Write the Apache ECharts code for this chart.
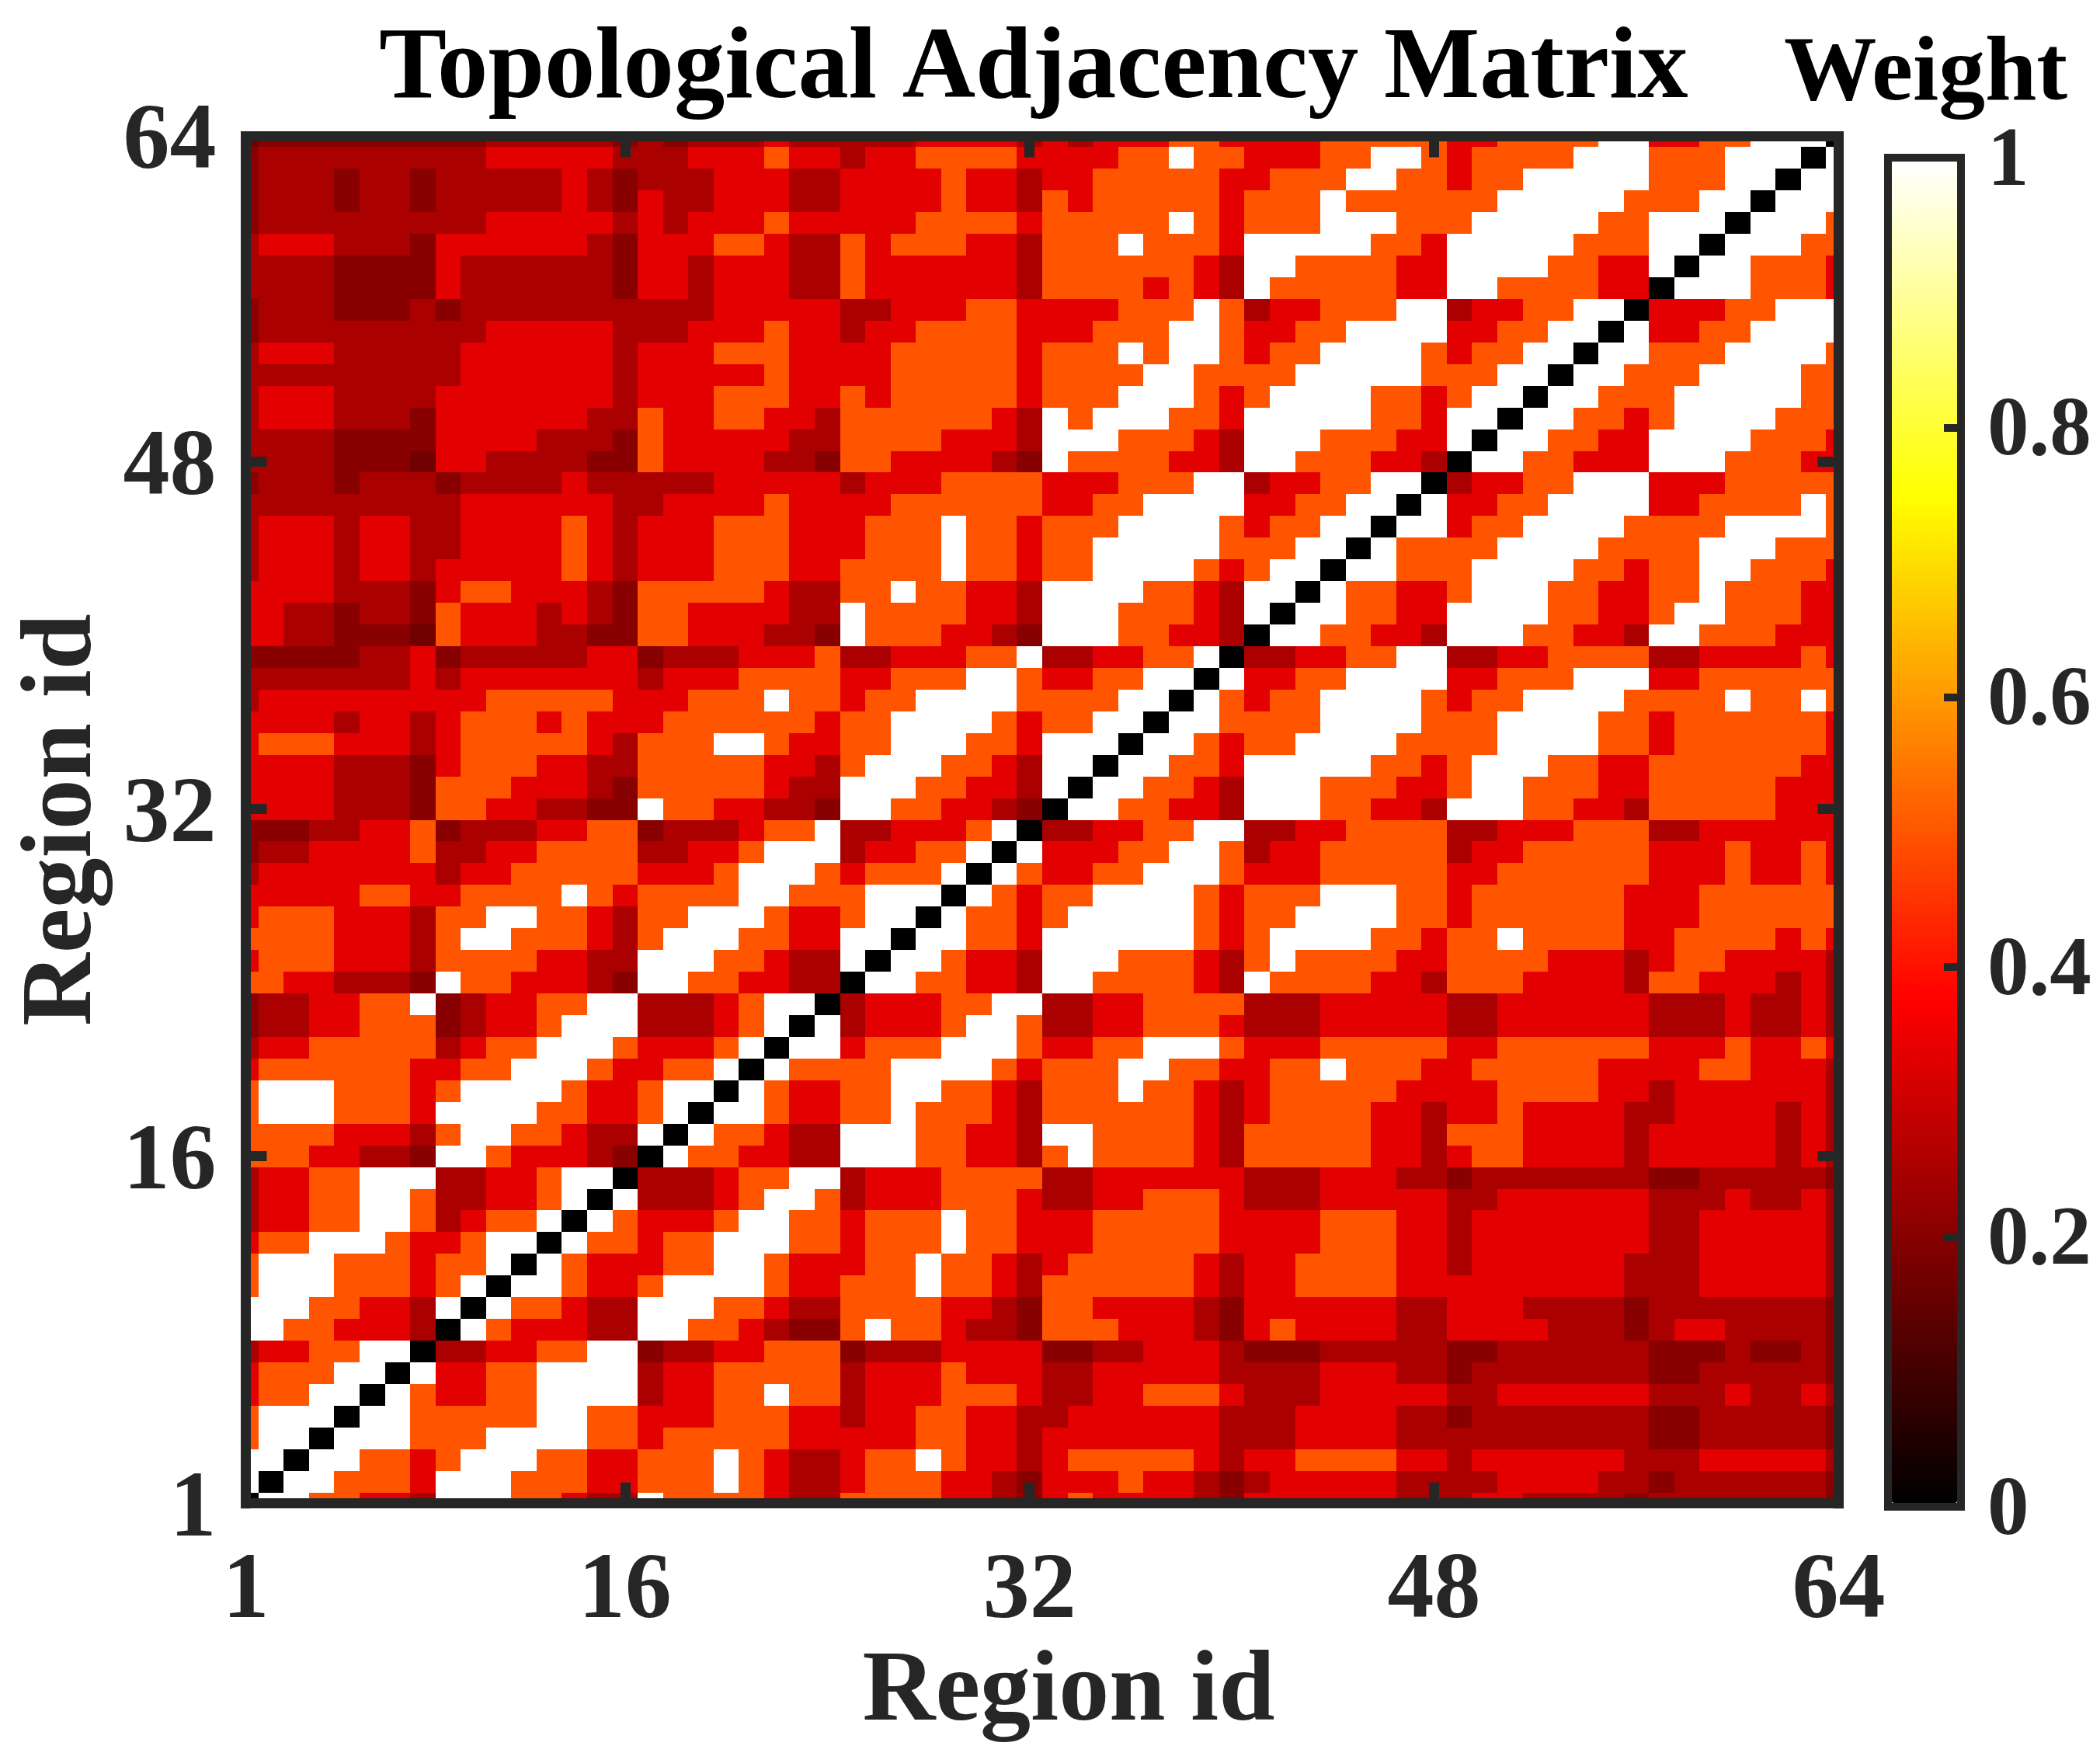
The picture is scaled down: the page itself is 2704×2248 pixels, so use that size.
<!DOCTYPE html>
<html><head><meta charset="utf-8">
<style>html,body{margin:0;padding:0;background:#fff}#c{width:2704px;height:2248px}</style>
<script src="https://cdn.jsdelivr.net/npm/echarts@6/dist/echarts.min.js"></script>
</head><body><div id="c"></div>
<script>
const titleText = 'Topological Adjacency Matrix';
const barTitle = 'Weight';
const axisName = 'Region id';
const xTickAt = [1, 16, 32, 48, 64];
const yTickAt = [1, 17, 33, 49, 64];
const yTickText = ['1', '16', '32', '48', '64'];
const barTicks = [0, 0.2, 0.4, 0.6, 0.8, 1];
// colour classes: class -> weight
const weightLevels = [0, 1, 0.5, 0.3333, 0.25, 0.2, 0.1667];
// cell classes, top row (row 64) first; row n holds columns 1..n
const rowsLeft = [
"6555555555 44444 545 444 3 44444 3333 4 3 4 333 22 3333 22222 33 2222 11 33 22 111 0",
"5 444444444 33333 444 333 2 33 4 33 2222 3333 22 1 22 333 22 11 2 3 2222 111 222 111 0",
"54445445 44444 3 4 5 444 333 44 3333 2 33 4 33 22222 33 222 11 22 3 22 11111 222 11 0",
"54445445 44444 3 4 5 3 44 333 44 3333 2 33 4 2 3 22222 3 222 1 222222 11111 222 11 0",
"5 444444444 33333 4 3 4 333 2 33333 2222 3 22222 1 2 3 222 111 222 11111 22 111 0",
"4 333 444 5 333333 4 5 333 22 3 44 2 3 222 33 4 222 1 222 3 11111 22 3 11111 222 11 0",
"4444 5555 3 444444 5 33 4 333 44 2 333333 4 222222 3 4 11 2222 33 1111 22 33 1 0",
"4444 5555 3 444444 5 33 4 333 44 2 333333 4 2222 3 2 3 4 1 22222 33 11 2222 33 0",
"5444 555 4 5 4444444444 33333 44 333 22 3333 222 1 2 4 33 222 11 4 33 22 11 0",
"5 444444444 33333 444 333 2 33 4 33 2222 333 222 11 2 33 22 1111 33 22 11 0",
"4 333 44444 333333 4 333 222 3333 22222 3 222 1 2 11 2 3 22 1111 2 3 22 11 0",
"444444444 333333 4 33333 2 3333 22222 3 2222 11 2222 11111 222 11 0",
"4 333 4444 3333333 4 333 222 33 2 3 22222 3 222 111 2 3 2 1111 22 3 2 11 0",
"4 333 444 5 333333 44 2 33 22 3 3 4 222222 3 4 1 2 111 22 3 11111 22 3 11 0",
"4444 5555 3333 444 5 2 33333 44 2222 333 4 111 222 3 4 111 222 33 1 0",
"4444 555 6 33 4444 55 2 3333 44 5 22 3333 4 5 1 2222 33 4 11 222 33 4 0",
"5444 5 444 5 4444 3 44444 33333 4 333 2222 333 222 11 4 33 22 11 0",
"444444444 333333 44 3333 2 3333 222222 33 22 1111 33 22 11 0",
"4 333 4 33 44 3333 2 3 4 333 222 333 222 1 22 3 222 1111 2 3 22 11 0",
"4 333 4 33 44 3333 2 3 4 333 222 333 222 1 22 3 22 11111 222 11 0",
"4 333 4 33 4 33333 2 3 4 333 222 33 2222 1 22 3 22 1111 2 3 2 11 0",
"3333 444 5 3 22 333 4 5 22222 3 44 22 1 22 33 4 1111 22 3 4 11 0",
"33 44 5 44 5 2 333 4 3 4 5 22 3333 44 1 2222 33 4 111 222 3 4 1 0",
"33 44 555 6 2 333 44 55 22 333 4 4 5 1 222 33 4 5 111 22 33 4 0",
"55555 44 3 5 44444 33 5 444 333 2 44 333 22 1 44 33 22 1 0",
"4444444 3 4 3333333 4 333 2222 33 222 11 2 33 22 11 0",
"4 333333333 22222 333 222 1 22 3 22 1111 2222 11 0",
"3333 4 33 4 3 222 3 2 333 222222 3 22 1111 2 3 22 11 0",
"3 222 333 4 3 22222 3 4 222 11 2 33 22 111 22 3 111 0",
"3333 444 5 3 222 33 44 22222 33 4 2 111 22 3 4 11 0",
"3333 444 5 222 333 4 5 22222 3 44 111 22 33 4 1 0",
"3333 444 5 22 33 44 55 1 22 33 44 5 11 22 33 4 5 0",
"555 44 33 2 5 444 33 22 5 444 3 22 1 44 333 2 1 0",
"5 44 3333 2 44 33 2222 44 33 2 111 4 33 22 1 0",
"4 3333333 4 33 22222 333 2 111 2 3 222 1 0",
"33333 22 33 2222 1 2 3 2222 11 222 111 0",
"3 222 333 4 22 11 22 3 4 22 111 2 33 2 11 0",
"2222 333 4 2 11 222 3 4 2 111 22 33 11 0",
"3 222 333 4 2222 33 44 111 22 3 44 1 0",
"22 33 444 5 1 22 333 4 5 11 22 33 44 0",
"5 44 33 22 1 5 4 33 22 11 444 3 2 11 0",
"5 44 33 222 5 4 33 2 111 444 3 2 1 0",
"4 33 22222 4 3 22 111 2 333 2 1 0",
"3 222222 33 22 111 2 33 22 1 0",
"2 111 222 3 2 1111 2 33 2 11 0",
"2 111 222 3 1111 22 33 2 1 0",
"2222 333 4 2 11 22 3 44 1 0",
"222 33 44 5 11 2 333 4 5 0",
"4 33 22 111 44 33 2 11 0",
"4 33 22 11 2 44 33 2 1 0",
"4 33 22 11 2 4 3 22 1 0",
"3 22 111 2 33 2 11 0",
"2 111 222 3 22 1 0",
"2 111 222 3 2 1 0",
"111 22 33 4 1 0",
"11 22 333 4 0",
"4 33 22 11 0",
"3 222 11 0",
"3 22 11 0",
"2 111 0",
"2 11 0",
"11 0",
"1 0",
"0"
];
// same rows, the cells to the right of the diagonal: row n holds columns n+1..64
const rowsRight = [
"",
"1",
"11",
"111",
"1112",
"11122",
"112223",
"1112223",
"33322111",
"133221111",
"1122211112",
"11222111122",
"112221111122",
"1122321111222",
"11223311112223",
"112233311122233",
"4332211133322222",
"13322111133222212",
"113221111222211112",
"1222211112222111222",
"11222111122322112223",
"122332111223322122233",
"1122331111223321122233",
"11223341112233411222333",
"443322114433222244333323",
"1332211113322211133222222",
"12322111123221111222212212",
"112222111122211112232222223",
"1123221111222211112232222223",
"11223111112232111223322222233",
"112234111222332112223322222333",
"1122334111223341112233422222333",
"44332211443322224433322244333333",
"1 333 22 11 2 4 33 22222 4 33 22222 333 2 33 2 3",
"1 2 33 22 111 2 333 22222 33 222222 333 2 33 2 3",
"1 2 3 22 1111 2 3 222 111 22 3 222222 333 222222",
"1 22 3 2 11111 2 3 22 1111 22 3 222222 333 222222",
"11 22 3 111111 2 3 2 1111 22 3 22 1 2222 33 2222 3 2 3",
"11 2 33 4 111 222 3 4 2 1 22 22 33 2222 333 4 3 22 3333 4",
"11 22 33 4 11 2222 3 4 1 2222 33 4 222 3333 4 22 333 4 3 4",
"4 333 22 11 44 33 2222 444 33333 44 333333 444 3 44 3 4",
"1 4 333 2 11 2 44 33 222 3 444 33333 44 333333 444 3 44 3 4",
"11 3 222 111 2 33 22 111 2 333 22222 33 222222 333 2 33 2 3",
"1 2222 1111 2 3 222 11 22 33 22 1 222 33 22222 3333 22 333 4",
"1 2 33 22 11 22 3 4 222 1 22 3 4 3 222 22 3333 2222 33 4 333333 4",
"11 2 33 22 1 222 3 4 222222 3 4 3 222 2 33 4 33 2 3333 44 3333 4 3 4",
"1 22 3 44 111 22 33 4 11 2222 3 4 22222 33 4 222 3333 4 33333 4 3 4",
"1 22 33 44 111 22 33 4 2 1 2222 3 4 22222 33 4 3 22 3333 4 33333 4 3 4",
"444 3 22 11 4 333 2222 44 333333 444 333 44 5 4444444 55 44444 5",
"1 444 3 2 11 2 4 333 222 3 44 33 222 3 444 33333 44 333333 444 3 44 3 4",
"1 2 333 2 11 22 3 222 1 22 333 22222 3333 222 33 4 3333333 44 33333 4",
"1 22 3 22 111 22 3 222 1 22 333 22222 3333 222 33 4 3333333 44 33333 4",
"1 2 333 22 11 2 333 22 1 22 3 4 3 22222 3 4 33 2222 33 4 333333 444 33333 4",
"11 2 33 2 1111 2 33 222 1 22 3 4 222222 3 4 33 2222 333333333 444 33333 4",
"1 22 3 44 111 22 3 44 2222 33 4 5 22 3333 4 5 333333 44 333 4444 5 4444444 5",
"1 2 333 44 11 22 3 4 55 2 1 22 3 44 5 222 333 4 5 3 2 3333 44 3333 444 5 4 33 4444 5",
"44 33 22 11 5 44 33 222 5 444 3333 55 44 333 4 555 44444 55 444444 555 4 55 4 5",
"1 33 22 1111 4 33 22222 4 333 2 333 44 33333 4444 333 44 5 4444444 55 44444 5",
"1 2 33 22 1111 4 33 22 1 22 4 333 222 3 44 33 222 3 444 33333 44 333333 444 3 44 3 4",
"11 22222 11 22 333 222 33 4 33 22 33 44 333333 444 3333 44 5 4444444 55 44444 5",
"111 222 1111 22 3 22222 33333 22 33 4 3333333 444 3333 4444444444 55 44444 5",
"11 22 3 2 111 22 33 222 1 2 3 44 3 22 1 2 33 4 3 22222 3 4 33 2222 33 4 333333 444 33333 4",
"11 222 3 111 222 33 222 1 2 3 44 3 222 33 4 5 333 2 33 4 5 4 33333 4444 3333 44 5 444444 5",
"11 22 33 4 111 22 3 44 1 2222 3 44 2222 33 4 5 3 2 3333 4 5 333333 444 33 4444 5 4444444 5"
];
const hotStops = ['#000000','#550000','#aa0000','#ff0000','#ff5500','#ffaa00','#ffff00','#ffff80','#ffffff'];

const cells = [];
rowsLeft.forEach((s, i) => {
  const codes = (s + rowsRight[i]).replace(/ /g, '');
  const row = 64 - i;
  for (let k = 0; k < codes.length && k < 64; k++) cells.push([k + 1, row, weightLevels[+codes[k]]]);
});

const ink = '#262626';
const labelFont = {fontFamily: 'Liberation Serif', fontWeight: 'bold', fontSize: 120, color: ink};
const barFont = {fontFamily: 'Liberation Serif', fontWeight: 'bold', fontSize: 107, color: ink};
function axis(pos, tickAt, labelOpt, extra) {
  return Object.assign({
    type: 'value', position: pos, gridIndex: 0, min: 1, max: 64, z: 10,
    splitLine: {show: false}, minorTick: {show: false},
    axisLine: {show: true, onZero: false, lineStyle: {color: ink, width: 13, cap: 'square'}},
    axisTick: {show: true, inside: true, length: 27, customValues: tickAt, lineStyle: {color: ink, width: 13}},
    axisLabel: labelOpt ? Object.assign({show: true, customValues: tickAt, hideOverlap: false, showMinLabel: true, showMaxLabel: true}, labelFont, labelOpt) : {show: false}
  }, extra || {});
}
const nameFont = {fontFamily: 'Liberation Serif', fontWeight: 'bold', fontSize: 130, color: ink};
function barFrame(pos) {
  return {
    type: 'value', position: pos, gridIndex: 1, min: 0, max: 1, z: 10, splitLine: {show: false},
    axisLine: {show: true, onZero: false, lineStyle: {color: ink, width: 10, cap: 'square'}},
    axisTick: {show: false}, axisLabel: {show: false}
  };
}
const barRight = barFrame('right');
barRight.interval = 0.2;
barRight.axisTick = {show: true, inside: true, length: 22, lineStyle: {color: ink, width: 10}};
barRight.axisLabel = {show: true, margin: 34, align: 'left',
  rich: {a: Object.assign({padding: [14, 0, 0, 0]}, barFont)},
  formatter: v => barTicks.includes(+v.toFixed(1)) ? '{a|' + (+v.toFixed(1)) + '}' : ''};

const chart = echarts.init(document.getElementById('c'), null, {renderer: 'canvas', width: 2704, height: 2248, devicePixelRatio: 1});
chart.setOption({
  animation: false,
  backgroundColor: '#fff',
  title: [
    {text: titleText, left: 488, top: 26, padding: 0, textStyle: {fontFamily: 'Liberation Serif', fontWeight: 'bold', fontSize: 130.6, color: '#000'}},
    {text: barTitle, left: 2297, top: 37, padding: 0, textStyle: {fontFamily: 'Liberation Serif', fontWeight: 'bold', fontSize: 119.5, color: '#000'}}
  ],
  grid: [
    {left: 316.5, top: 175.4, width: 2051, height: 1760.3, containLabel: false, outerBoundsMode: 'none'},
    {left: 2431, top: 203, width: 94, height: 1737, containLabel: false, outerBoundsMode: 'none'}
  ],
  xAxis: [
    axis('bottom', xTickAt, {margin: 55}, {name: axisName, nameLocation: 'middle', nameGap: 170,
      nameTextStyle: Object.assign({padding: [0, 0, 0, 68]}, nameFont)}),
    axis('top', xTickAt, null),
    barFrame('bottom'),
    barFrame('top')
  ],
  yAxis: [
    axis('left', yTickAt, {margin: 38, rich: {a: Object.assign({padding: [20, 0, 0, 0]}, labelFont)},
      formatter: v => '{a|' + yTickText[yTickAt.indexOf(v)] + '}'},
      {name: axisName, nameLocation: 'middle', nameGap: 162, nameRotate: 90, nameTextStyle: nameFont}),
    axis('right', yTickAt, null),
    barFrame('left'),
    barRight
  ],
  visualMap: {
    type: 'continuous', seriesIndex: 0, dimension: 2, min: 0, max: 1, calculable: false, hoverLink: false,
    inRange: {color: hotStops}, left: 2436, top: 208, padding: 0, itemWidth: 84, itemHeight: 1727, z: 4, text: null
  },
  series: [{
    type: 'custom', coordinateSystem: 'cartesian2d', xAxisIndex: 0, yAxisIndex: 0, clip: true, silent: true,
    encode: {x: 0, y: 1}, dimensions: ['col', 'row', 'weight'], progressive: 0,
    data: cells,
    renderItem(params, api) {
      const a = api.coord([api.value(0) - 0.5, api.value(1) + 0.5]);
      const b = api.coord([api.value(0) + 0.5, api.value(1) - 0.5]);
      const x = Math.round(a[0]), y = Math.round(a[1]);
      return {type: 'rect', shape: {x: x, y: y, width: Math.round(b[0]) - x, height: Math.round(b[1]) - y}, style: {fill: api.visual('color')}};
    }
  }]
});
</script></body></html>
